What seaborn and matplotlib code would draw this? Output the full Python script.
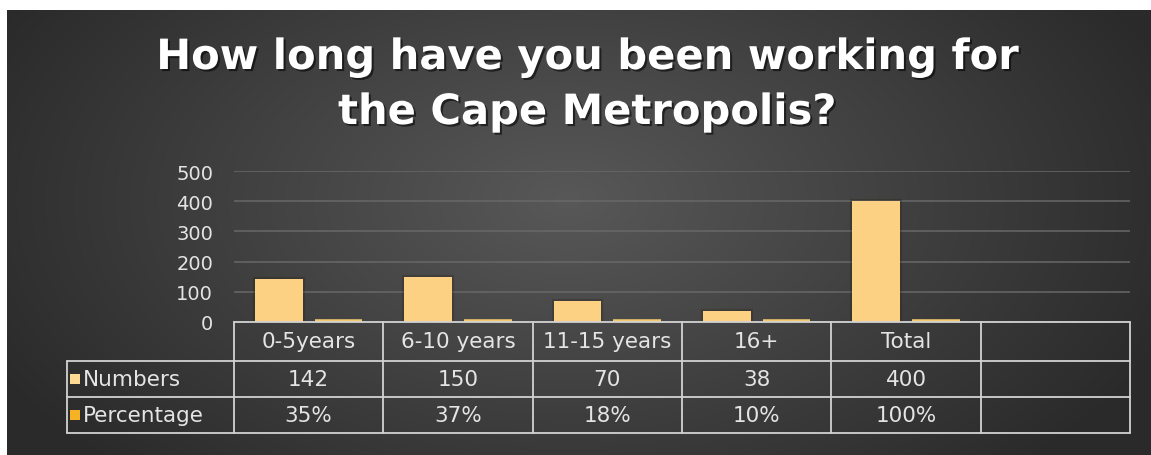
import numpy as np
import pandas as pd
import matplotlib
matplotlib.use("Agg")
import matplotlib.pyplot as plt
import matplotlib.patheffects as pe
from matplotlib.lines import Line2D
from matplotlib.patches import Rectangle
import seaborn as sns

# ---- data -------------------------------------------------------------
categories = ["0-5years", "6-10 years", "11-15 years", "16+", "Total", ""]
series = ["Numbers", "Percentage"]
numbers = [142, 150, 70, 38, 400]
percentage = [0.35, 0.37, 0.18, 0.10, 1.00]
number_labels = ["142", "150", "70", "38", "400"]
percent_labels = ["35%", "37%", "18%", "10%", "100%"]
yticks = [0, 100, 200, 300, 400, 500]
title = "How long have you been working for\nthe Cape Metropolis?"

# ---- styling ------------------------------------------------------------
num_color = "#FCD184"
pct_color = "#F3CB6E"
num_key = "#FFDA92"
pct_key = "#F5B224"
text_color = "#E4E4E4"
line_color = "#D2D2D2"
grid_color = "#686868"

sns.set_theme(style="dark")
plt.rcParams["font.family"] = ["DejaVu Sans"]

W, H = 1151, 456
fig = plt.figure(figsize=(W / 100, H / 100), dpi=100, facecolor="white")


def fx(px):
    return px / W


def fy(py):
    return 1 - py / H


# dark panel with a soft radial highlight
bg = fig.add_axes([fx(7), 0, 1 - fx(7), 1 - 11 / H])
ph, pw = H - 11, W - 7
yy, xx = np.mgrid[0:ph, 0:pw]
r = np.sqrt(((xx - 560) / 720.0) ** 2 + ((yy - 190) / 420.0) ** 2)
g = np.clip(0.345 - 0.20 * r, 0.165, 0.345)
bg.imshow(np.dstack([g, g, g]), aspect="auto", interpolation="bilinear")
bg.set_axis_off()

# ---- bars ----------------------------------------------------------------
df = pd.DataFrame({
    "category": categories[:5] * 2,
    "series": [series[0]] * 5 + [series[1]] * 5,
    "value": numbers + percentage,
})

ax = fig.add_axes([fx(234), fy(323), fx(1130) - fx(234), (323 - 172) / H])
ax.patch.set_alpha(0)
sns.barplot(data=df, x="category", y="value", hue="series",
            order=categories, hue_order=series,
            palette=[num_color, pct_color], saturation=1,
            width=0.8, gap=0.2, legend=False, ax=ax, zorder=3)

glow = [pe.Stroke(linewidth=3, foreground="#1e1406", alpha=0.22), pe.Normal()]
for bar in ax.patches:
    fc = bar.get_facecolor()
    if bar.get_height() < 5:
        # percentage bars are tiny on this scale; a thick outline keeps them visible
        bar.set_edgecolor(fc)
        bar.set_linewidth(4.0)
        bar.set_joinstyle("miter")
        bar.set_zorder(6)
    else:
        bar.set_edgecolor("none")
        bar.set_linewidth(0)
        bar.set_path_effects(glow)

ax.set_ylim(0, 500)
ax.set_yticks(yticks)
ax.set_yticklabels([str(t) for t in yticks])
ax.yaxis.grid(True, color=grid_color, linewidth=1.1)
ax.xaxis.grid(False)
for s in ax.spines.values():
    s.set_visible(False)
ax.tick_params(axis="y", length=0, pad=15, labelsize=14, labelcolor=text_color)
ax.tick_params(axis="x", length=0, labelbottom=False)
ax.set_xlabel("")
ax.set_ylabel("")

# ---- data table under the bars -----------------------------------------------
xt = ax.get_xaxis_transform()
ax_h = 323 - 172
rows_px = [323, 362, 398, 434]
rows = [(323 - p) / ax_h for p in rows_px]
n = len(categories)
left_edge = -0.5
right_edge = n - 0.5
label_left = -0.5 - (234 - 67) / ((1130 - 234) / n)


def hline(x0, x1, y, z=7):
    ax.add_line(Line2D([x0, x1], [y, y], transform=xt, color=line_color,
                       linewidth=1.3, clip_on=False, zorder=z))


def vline(x, y0, y1):
    ax.add_line(Line2D([x, x], [y0, y1], transform=xt, color=line_color,
                       linewidth=1.3, clip_on=False, zorder=7))


hline(left_edge, right_edge, rows[0])
for y in rows[1:]:
    hline(label_left, right_edge, y)
for i in range(n + 1):
    vline(i - 0.5, rows[0], rows[3])
vline(label_left, rows[1], rows[3])

table_fs = 15.5
mid = [(rows[i] + rows[i + 1]) / 2 for i in range(3)]
tkw = dict(transform=xt, ha="center", va="center", fontsize=table_fs,
           color=text_color, clip_on=False)
for i, c in enumerate(categories):
    ax.text(i, mid[0], c, **tkw)
for i in range(len(number_labels)):
    ax.text(i, mid[1], number_labels[i], **tkw)
    ax.text(i, mid[2], percent_labels[i], **tkw)

# row keys
for (key_color, name, yc) in [(num_key, series[0], 380), (pct_key, series[1], 416)]:
    fig.add_artist(Rectangle((fx(70), fy(yc + 5)), fx(10), 10 / H,
                             facecolor=key_color, edgecolor="none",
                             transform=fig.transFigure))
    fig.text(fx(83), fy(yc), name, ha="left", va="center", fontsize=table_fs,
             color=text_color)

# ---- title ------------------------------------------------------------------
shadow = [pe.withSimplePatchShadow(offset=(1.5, -1.5), shadow_rgbFace="black",
                                   alpha=0.55)]
for line, yc in zip(title.split("\n"), [58, 113]):
    fig.text(fx(587), fy(yc), line, ha="center", va="center", fontsize=30,
             fontweight="bold", color="white", path_effects=shadow)

fig.savefig("out.png", dpi=100, facecolor=fig.get_facecolor())
